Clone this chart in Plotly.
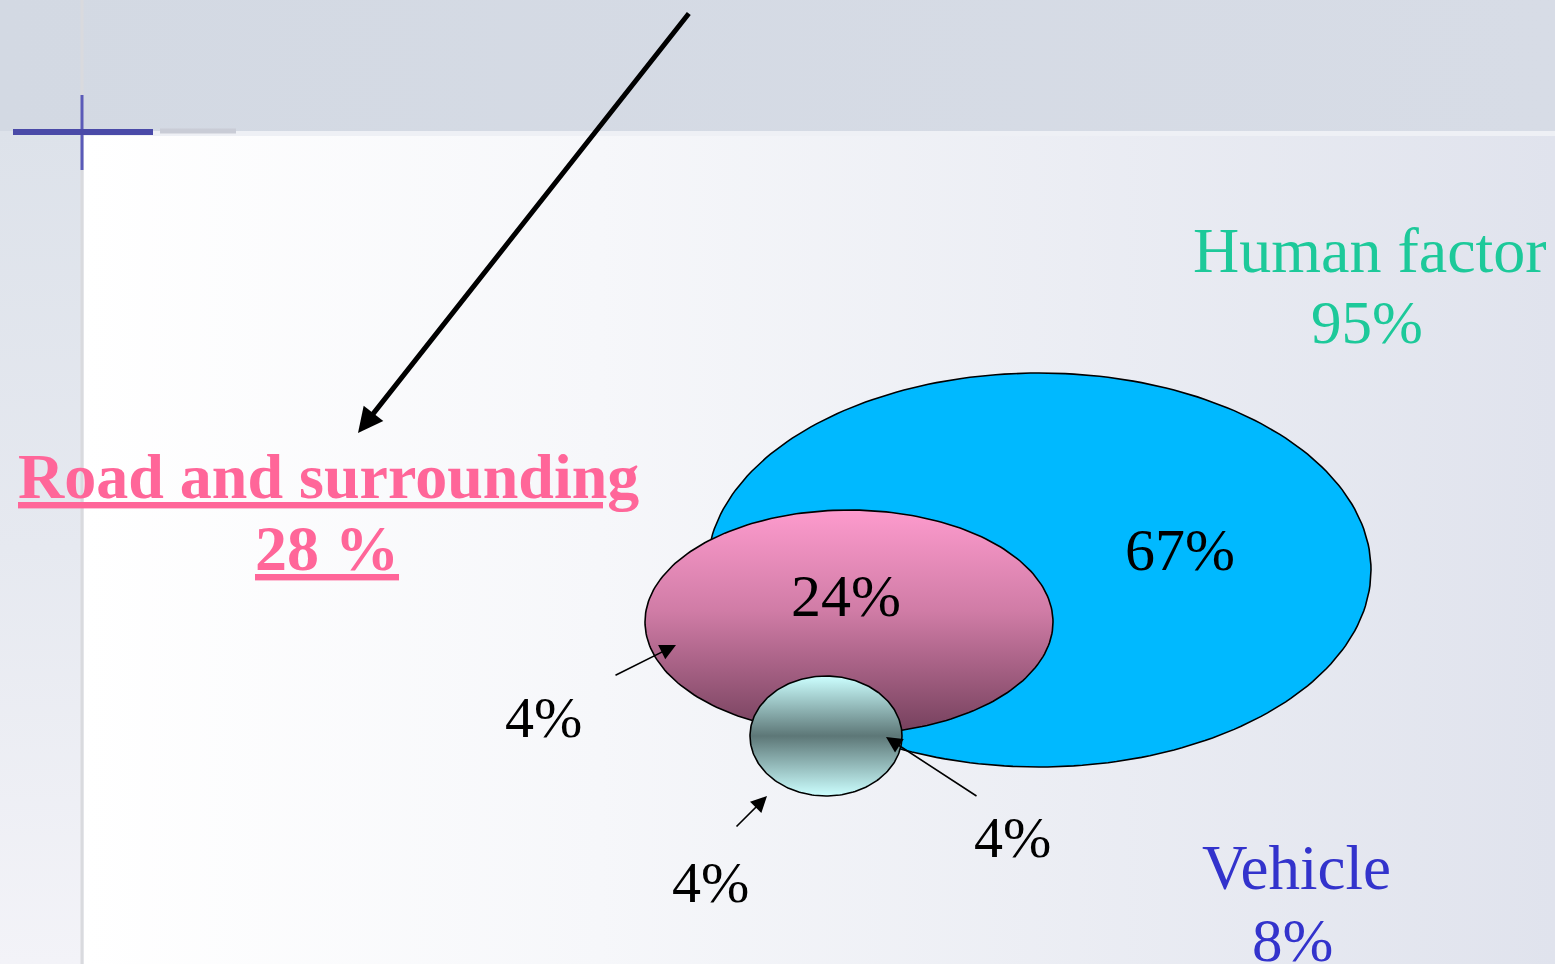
import numpy as np
import plotly.graph_objects as go

# ---- data (labels and values) ----
set_names = ["Human factor", "Road and surrounding", "Vehicle"]
set_totals = ["95%", "28 %", "8%"]
region_labels = ["67%", "24%", "4%", "4%", "4%"]  # human only, human&road, road&vehicle, vehicle only, human&vehicle

W, H = 1555, 964

fig = go.Figure()

def rect_trace(x0, y0, x1, y1, gtype, colors, start, stop):
    return go.Scatter(
        x=[x0, x1, x1, x0, x0], y=[y0, y0, y1, y1, y0], mode="lines",
        line=dict(width=0), fill="toself",
        fillgradient=dict(type=gtype, colorscale=colors, start=start, stop=stop),
        hoverinfo="skip", showlegend=False)

# background (slide template)
fig.add_trace(rect_trace(0, 0, W, 131, "horizontal",
                         [[0, "#d3d9e3"], [1, "#d7dce6"]], 0, W))
fig.add_trace(rect_trace(0, 131, 81, H, "vertical",
                         [[0, "#dde2ea"], [0.5, "#e6e9f0"], [1, "#f3f3f8"]], 131, H))
fig.add_trace(rect_trace(84, 136, W, H, "horizontal",
                         [[0, "#ffffff"], [0.35, "#f6f7fa"], [1, "#e0e3ed"]], 84, W))

def ellipse_trace(cx, cy, rx, ry, gradient=None, color=None, start=None, stop=None):
    t = np.linspace(0, 2 * np.pi, 241)
    kw = dict(x=cx + rx * np.cos(t), y=cy + ry * np.sin(t), mode="lines",
              line=dict(color="black", width=1.6), fill="toself",
              hoverinfo="skip", showlegend=False)
    if gradient is not None:
        kw["fillgradient"] = dict(type="vertical", colorscale=gradient, start=start, stop=stop)
    else:
        kw["fillcolor"] = color
    return go.Scatter(**kw)

# Human factor (blue)
fig.add_trace(ellipse_trace(1039, 570, 332, 197, color="#00b9ff"))
# Road and surrounding (pink gradient)
fig.add_trace(ellipse_trace(849, 622, 204, 112,
                            gradient=[[0, "#fd9bcd"], [0.45, "#d07ca6"], [1, "#74405c"]],
                            start=510, stop=734))
# Vehicle (cyan/grey gradient)
fig.add_trace(ellipse_trace(826, 736, 76, 60,
                            gradient=[[0, "#ccffff"], [0.5, "#5d7777"], [1, "#ccffff"]],
                            start=676, stop=796))

SERIF = "Liberation Serif, Times New Roman, serif"
ann = []
def txt(x, y, s, size, color, bold=False, under=False):
    ann.append(dict(x=x, y=y, xref="x", yref="y", text=("<b>%s</b>" % s) if bold else s,
                    showarrow=False, xanchor="center", yanchor="middle",
                    font=dict(family=SERIF, size=size, color=color,
                              lineposition="under" if under else "none")))

txt(1370, 250, set_names[0], 64, "#1dc99a")
txt(1367, 322, set_totals[0], 61, "#1dc99a")
txt(328, 476, set_names[1], 64, "#ff6699", bold=True, under=True)
txt(327, 548, set_totals[1], 64, "#ff6699", bold=True, under=True)
txt(1296, 868, set_names[2], 63, "#3333cc")
txt(1292, 940, set_totals[2], 61, "#3333cc")

txt(1180, 550, region_labels[0], 60, "black")
txt(846, 596, region_labels[1], 60, "black")
txt(543, 717, region_labels[2], 58, "black")
txt(710, 882, region_labels[3], 58, "black")
txt(1012, 837, region_labels[4], 58, "black")

def arrow(x0, y0, x1, y1, width, size):
    ann.append(dict(x=x1, y=y1, ax=x0, ay=y0, xref="x", yref="y", axref="x", ayref="y",
                    text="", showarrow=True, arrowhead=2, arrowwidth=width,
                    arrowsize=size, arrowcolor="black"))

arrow(690, 12, 358, 433, 5, 1.0)
arrow(614, 676, 676, 645, 1.6, 2.0)
arrow(735, 828, 767, 796, 1.6, 2.0)
arrow(978, 797, 886, 737, 1.6, 2.0)

# slide template cross
shapes = [
    dict(type="line", xref="x", yref="y", x0=82, x1=82, y0=0, y1=H,
         line=dict(color="#d9dade", width=3), layer="above"),
    dict(type="line", xref="x", yref="y", x0=82, x1=82, y0=95, y1=170,
         line=dict(color="#5a5ab8", width=3), layer="above"),
    dict(type="line", xref="x", yref="y", x0=13, x1=153, y0=132, y1=132,
         line=dict(color="#4a4aa8", width=6), layer="above"),
    dict(type="line", xref="x", yref="y", x0=160, x1=236, y0=131, y1=131,
         line=dict(color="#c9ccd6", width=5), layer="above"),
]

fig.update_layout(
    width=W, height=H, margin=dict(l=0, r=0, t=0, b=0),
    paper_bgcolor="#eef0f5", plot_bgcolor="#eef0f5",
    xaxis=dict(range=[0, W], visible=False, fixedrange=True),
    yaxis=dict(range=[H, 0], visible=False, fixedrange=True),
    annotations=ann, shapes=shapes, showlegend=False,
)

fig.write_html("out.html", config={"displayModeBar": False},
               post_script="document.body.style.margin='0';document.body.style.overflow='hidden';")
